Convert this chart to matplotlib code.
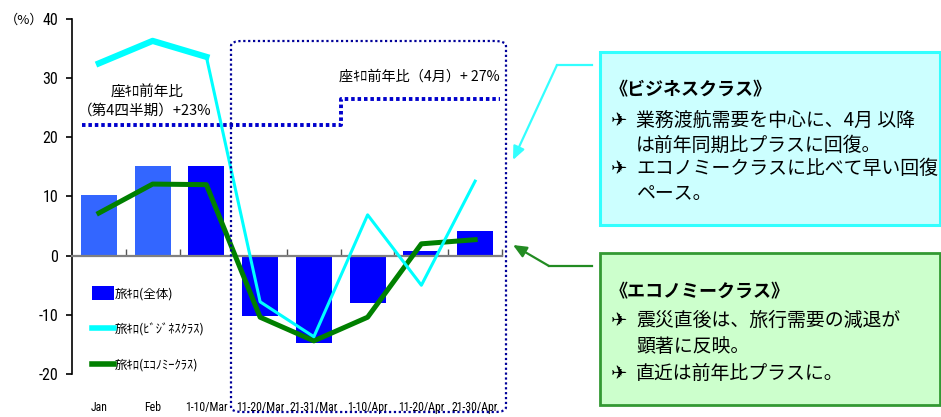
import matplotlib
matplotlib.use("Agg")
import matplotlib.pyplot as plt
from matplotlib import font_manager
from matplotlib.patches import FancyBboxPatch, Rectangle, Patch
from matplotlib.lines import Line2D

# ---------------- data ----------------
categories = ["Jan", "Feb", "1-10/Mar", "11-20/Mar", "21-31/Mar", "1-10/Apr", "11-20/Apr", "21-30/Apr"]
total_vals = [10.2, 15.1, 15.1, -10.2, -14.7, -8.0, 0.8, 4.2]
business_vals = [32.5, 36.3, 33.6, -7.8, -13.7, 6.9, -5.0, 12.6]
economy_vals = [7.2, 12.1, 12.0, -10.4, -14.4, -10.4, 2.0, 2.7]
bar_colors = ["#3366FF", "#3366FF", "#0000FF", "#0000FF", "#0000FF", "#0000FF", "#0000FF", "#0000FF"]
seat_x = [-0.31, 4.5, 4.5, 7.46]
seat_levels = [22.0, 22.0, 26.4, 26.4]
yticks = [-20, -10, 0, 10, 20, 30, 40]
legend_labels = ["旅ｷﾛ(全体)", "旅ｷﾛ(ﾋﾞｼﾞﾈｽｸﾗｽ)", "旅ｷﾛ(ｴｺﾉﾐｰｸﾗｽ)"]

# ---------------- fonts ----------------
avail = {f.name for f in font_manager.fontManager.ttflist}
narrow = None
for cand in ["Liberation Sans Narrow", "Arial Narrow", "Roboto Condensed", "Open Sans Condensed"]:
    if cand in avail:
        narrow = cand
        break
if narrow is None:
    narrow = "Liberation Sans"
    xfs, yfs = 7.6, 10.0
else:
    xfs, yfs = 8.5, 11.5
JP = "Noto Sans CJK JP"
plt.rcParams["font.family"] = [JP, "DejaVu Sans"]

W, H = 941, 417
fig = plt.figure(figsize=(W / 100, H / 100), dpi=100)


def fy(y):
    return H - y


ax = fig.add_axes([72 / W, 1 - 374 / H, (502 - 72) / W, (374 - 19) / H])
ax.set_xlim(-0.5, 7.5)
ax.set_ylim(-20, 40)

x = list(range(len(categories)))
ax.bar(x, total_vals, width=0.67, color=bar_colors, zorder=2)
ax.plot(x, economy_vals, color="#008000", lw=3.6, zorder=3)
ax.plot(x[:3], business_vals[:3], color="#00FFFF", lw=4.5, zorder=4)
ax.plot(x[2:], business_vals[2:], color="#00FFFF", lw=2.2, zorder=4)

ax.plot(seat_x, seat_levels, color="#0000CC", lw=2.8, linestyle=(0, (0.9, 0.75)), zorder=3)

# spines / ticks
for s in ["top", "right"]:
    ax.spines[s].set_visible(False)
ax.spines["left"].set_color("black")
ax.spines["left"].set_linewidth(1.2)
ax.spines["bottom"].set_position(("data", 0))
ax.spines["bottom"].set_color("#808080")
ax.spines["bottom"].set_linewidth(1.6)
ax.set_xticks([i + 0.5 for i in range(len(categories))])
ax.set_xticklabels([])
ax.tick_params(axis="x", direction="in", length=5, color="#555555", width=1)
ax.set_yticks(yticks)
ax.set_yticklabels([str(v) for v in yticks], fontfamily=narrow, fontsize=yfs)
ax.tick_params(axis="y", direction="out", length=4, width=1.2, pad=6)

for i, c in enumerate(categories):
    ax.text(i, -25.6, c, ha="center", va="center", fontfamily=narrow, fontsize=xfs, clip_on=False)

fig.text(24 / W, 1 - 20 / H, "（%）", ha="center", va="center", fontsize=9.5)

# annotations
ax.text(0.9, 27.6, "座ｷﾛ前年比", ha="center", va="center", fontsize=10.5)
ax.text(0.85, 24.6, "（第4四半期）+23%", ha="center", va="center", fontsize=10.5)
ax.text(7.46, 30.2, "座ｷﾛ前年比（4月）+ 27%", ha="right", va="center", fontsize=10.2)

# legend
handles = [Patch(facecolor="#0000FF", edgecolor="none"),
           Line2D([], [], color="#00FFFF", lw=4),
           Line2D([], [], color="#008000", lw=4)]
leg = ax.legend(handles, legend_labels, loc="upper left",
                bbox_to_anchor=(86 / W, 1 - 280 / H), bbox_transform=fig.transFigure,
                frameon=False, fontsize=9, handlelength=1.7, handleheight=1.3,
                handletextpad=0.1, labelspacing=1.75, borderpad=0)

# dotted rounded frame
frame = FancyBboxPatch((231 / W, fy(412) / H), (506 - 231) / W, (412 - 41) / H,
                       boxstyle="round,pad=0,rounding_size=0.012", transform=fig.transFigure,
                       fill=False, edgecolor="#000099", lw=1.6, linestyle=(0, (1, 1.2)),
                       zorder=5)
fig.patches.append(frame)

# right boxes
fig.patches.append(Rectangle((600 / W, fy(225) / H), 340 / W, (225 - 52) / H,
                             transform=fig.transFigure, facecolor="#CCFFFF",
                             edgecolor="#33FFFF", lw=2.2))
fig.patches.append(Rectangle((600 / W, fy(405) / H), 340 / W, (405 - 253) / H,
                             transform=fig.transFigure, facecolor="#CCFFCC",
                             edgecolor="#339933", lw=2))

# arrows
fig.add_artist(Line2D([592 / W, 557 / W], [fy(65) / H, fy(65) / H], color="#33FFFF", lw=1.6,
                      transform=fig.transFigure))
fig.add_artist(Line2D([592 / W, 549 / W], [fy(266) / H, fy(266) / H], color="#228B22", lw=1.6,
                      transform=fig.transFigure))
fig.add_artist(matplotlib.text.Annotation(
    "", xy=(513, fy(160)), xytext=(557, fy(65)), xycoords="figure pixels", textcoords="figure pixels",
    arrowprops=dict(arrowstyle="-|>,head_length=0.8,head_width=0.35", color="#33FFFF", lw=1.6,
                    shrinkA=0, shrinkB=0)))
fig.add_artist(matplotlib.text.Annotation(
    "", xy=(513, fy(245)), xytext=(549, fy(266)), xycoords="figure pixels", textcoords="figure pixels",
    arrowprops=dict(arrowstyle="-|>,head_length=0.8,head_width=0.35", color="#228B22", lw=1.6,
                    shrinkA=0, shrinkB=0)))

# box texts
FS = 13.6


def t(xp, yp, s, **kw):
    fig.text(xp / W, fy(yp) / H, s, ha="left", va="center", **kw)


def bullet(xp, yp):
    t(xp, yp, "✈", fontsize=14, family=["DejaVu Sans"])


t(610, 90, "《ビジネスクラス》", fontsize=13, fontweight="bold")
bullet(611, 120)
t(636, 120, "業務渡航需要を中心に、4月 以降", fontsize=FS)
t(636, 145, "は前年同期比プラスに回復。", fontsize=FS)
bullet(611, 168)
t(636, 168, "エコノミークラスに比べて早い回復", fontsize=FS)
t(636, 193, "ペース。", fontsize=FS)

t(610, 292, "《エコノミークラス》", fontsize=13, fontweight="bold")
bullet(611, 320)
t(636, 320, "震災直後は、旅行需要の減退が", fontsize=FS)
t(636, 346, "顕著に反映。", fontsize=FS)
bullet(611, 373)
t(636, 373, "直近は前年比プラスに。", fontsize=FS)

fig.savefig("out.png", dpi=100)
